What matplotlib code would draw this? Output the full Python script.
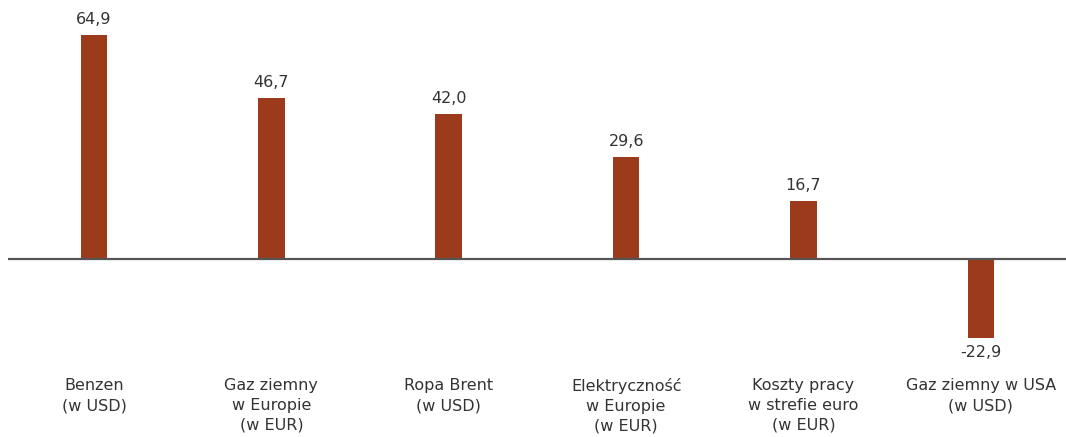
import matplotlib.pyplot as plt
import numpy as np

plt.rcParams['font.family'] = ['DejaVu Sans']

# price changes, percent
categories = [
    "Benzen\n(w USD)",
    "Gaz ziemny\nw Europie\n(w EUR)",
    "Ropa Brent\n(w USD)",
    "Elektryczność\nw Europie\n(w EUR)",
    "Koszty pracy\nw strefie euro\n(w EUR)",
    "Gaz ziemny w USA\n(w USD)",
]
values = [64.9, 46.7, 42.0, 29.6, 16.7, -22.9]

bar_color = "#9c3b1b"
text_color = "#333333"

fig = plt.figure(figsize=(10.66, 4.37), dpi=100)
ax = fig.add_axes([8 / 1066, 0, 1 - 8 / 1066, 1])

x = np.arange(len(values))
ax.bar(x, values, width=0.15, color=bar_color, zorder=2)
ax.axhline(0, color="#555555", linewidth=1.6, zorder=3)

ax.set_xlim(-0.485, 5.48)
ax.set_ylim(-51.6, 75.1)

for xi, v in zip(x, values):
    if v >= 0:
        ax.annotate(f"{v:.1f}".replace(".", ","), (xi, v), xytext=(0, 6),
                    textcoords="offset points", ha="center", va="bottom",
                    fontsize=11.5, color=text_color)
    else:
        ax.annotate(f"{v:.1f}".replace(".", ","), (xi, v), xytext=(0, -5),
                    textcoords="offset points", ha="center", va="top",
                    fontsize=11.5, color=text_color)

for xi, label in zip(x, categories):
    ax.text(xi, -34.6, label, ha="center", va="top", fontsize=11.5,
            color=text_color, linespacing=1.4)

ax.axis("off")
fig.savefig("out.png", dpi=100)
